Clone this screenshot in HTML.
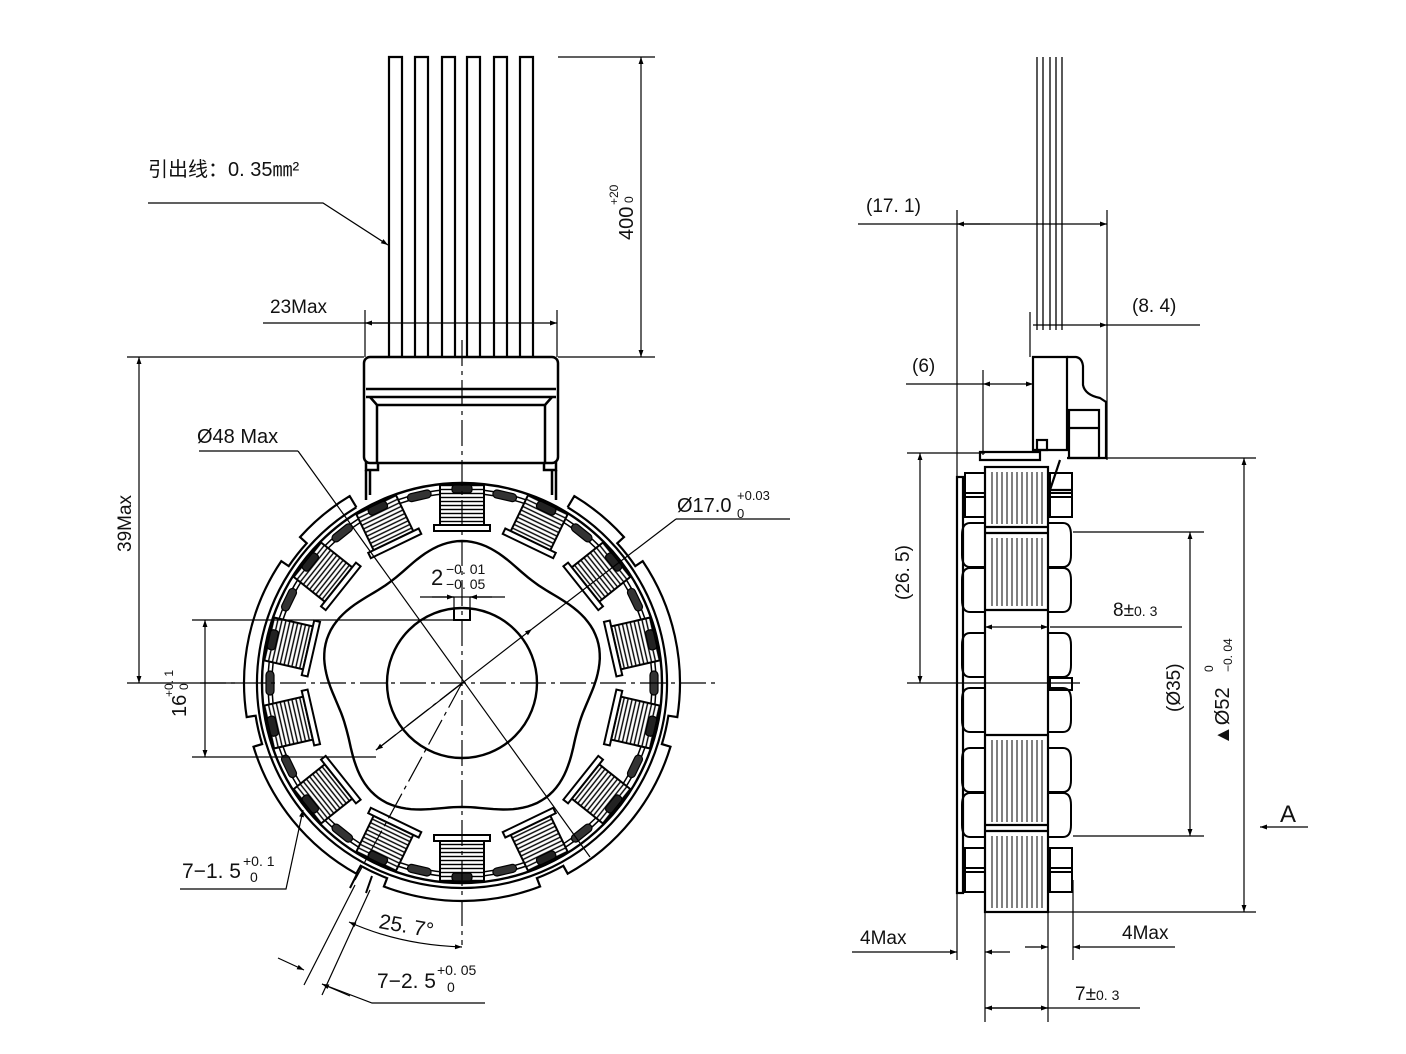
<!DOCTYPE html>
<html><head><meta charset="utf-8"><style>
html,body{margin:0;padding:0;background:#fff}
svg{display:block}
text{font-family:"Liberation Sans","Noto Sans CJK SC",sans-serif;fill:#111}
</style></head><body>
<svg id="s" width="1406" height="1054" viewBox="0 0 1406 1054" xmlns="http://www.w3.org/2000/svg">
<defs>
<marker id="a" viewBox="0 0 10 10" refX="10" refY="5" markerWidth="16" markerHeight="7" markerUnits="userSpaceOnUse" orient="auto-start-reverse"><path d="M0,1.5 L10,5 L0,8.5z" fill="#000"/></marker>
<pattern id="hz" width="4" height="4" patternUnits="userSpaceOnUse"><rect width="4" height="4" fill="#fff"/><line x1="0" y1="1.5" x2="4" y2="1.5" stroke="#000" stroke-width="1.4"/></pattern>
<pattern id="vt" width="5" height="5" patternUnits="userSpaceOnUse"><rect width="5" height="5" fill="#fff"/><line x1="2" y1="0" x2="2" y2="5" stroke="#000" stroke-width="1"/></pattern>
</defs>
<g fill="none" stroke="#000" stroke-width="1.2">
<g stroke-width="2.2">
<path d="M389,358V57H402V358M415,358V57H428V358M442,358V57H455V358M467,358V57H480V358M494,358V57H507V358M520,358V57H533V358"/>
</g>
<g stroke-width="2.5">
<rect x="364" y="357" width="194" height="106" rx="6"/>
<line x1="366" y1="389" x2="556" y2="389"/>
<line x1="366" y1="397" x2="556" y2="397"/>
<path d="M370,397 L377,405 H545 L552,397"/>
<line x1="377" y1="405" x2="377" y2="462"/>
<line x1="545" y1="405" x2="545" y2="462"/>
<path d="M366,462 V470 H378 V462 M556,462 V470 H544 V462"/>
<path d="M366,470 V500 M556,470 V500 M370,470 V495 M552,470 V495"/>
</g>
<g stroke-width="2.4">
<circle cx="462" cy="683" r="200"/>
<circle cx="462" cy="683" r="194" stroke-width="1.5"/>
<circle cx="462" cy="683" r="190" stroke-width="1.5"/>
<circle cx="462" cy="683" r="75"/>
</g>
<path id="lobe" stroke-width="2.4"/>
<path id="ring" stroke-width="2.2"/>
<g id="coils"></g>
<g stroke-width="1.2" stroke-dasharray="26,5,4,5">
<line x1="200" y1="683" x2="715" y2="683"/>
<line x1="462" y1="340" x2="462" y2="945"/>
</g>
<line x1="298" y1="451" x2="590" y2="857"/>
<line x1="462" y1="683" x2="376" y2="750" stroke-dasharray="28,5,4,5"/>
<line x1="462" y1="683" x2="355" y2="880" stroke-dasharray="28,5,4,5"/>
<line x1="376" y1="750" x2="532" y2="629" marker-start="url(#a)" marker-end="url(#a)"/>
<line x1="532" y1="629" x2="676" y2="519"/>
<line x1="676" y1="519" x2="790" y2="519"/>
<line x1="199" y1="451" x2="298" y2="451"/>
<path d="M454,608 V620 H470 V608" stroke-width="2"/>
<line x1="420" y1="597" x2="505" y2="597"/>
<line x1="454" y1="597" x2="454" y2="608"/><line x1="470" y1="597" x2="470" y2="608"/>
<line x1="432" y1="597" x2="454" y2="597" marker-end="url(#a)"/>
<line x1="492" y1="597" x2="470" y2="597" marker-end="url(#a)"/>
<line x1="558" y1="57" x2="655" y2="57"/>
<line x1="558" y1="357" x2="655" y2="357"/>
<line x1="641" y1="57" x2="641" y2="357" marker-start="url(#a)" marker-end="url(#a)"/>
<line x1="365" y1="310" x2="365" y2="357"/><line x1="557" y1="310" x2="557" y2="357"/>
<line x1="263" y1="323" x2="557" y2="323" marker-end="url(#a)"/>
<line x1="365" y1="323" x2="390" y2="323" marker-start="url(#a)"/>
<path d="M148,203 H323 L388,245" marker-end="url(#a)"/>
<line x1="127" y1="357" x2="364" y2="357"/>
<line x1="127" y1="683" x2="240" y2="683"/>
<line x1="139" y1="357" x2="139" y2="683" marker-start="url(#a)" marker-end="url(#a)"/>
<line x1="192" y1="620" x2="454" y2="620"/>
<line x1="192" y1="757" x2="376" y2="757"/>
<line x1="205" y1="620" x2="205" y2="757" marker-start="url(#a)" marker-end="url(#a)"/>
<path d="M180,889 H286 L303,810" marker-end="url(#a)"/>
<path d="M358,872 L350,888 M372,876 L366,893" stroke-width="2"/>
<line x1="355" y1="885" x2="304" y2="985"/>
<line x1="370" y1="890" x2="322" y2="995"/>
<line x1="278" y1="958" x2="304" y2="970" marker-end="url(#a)"/>
<line x1="350" y1="996" x2="322" y2="984" marker-end="url(#a)"/>
<path d="M322,984 L372,1003 H485"/>
<path d="M349,922 Q400,945 462,947" marker-start="url(#a)" marker-end="url(#a)"/>

<g stroke-width="1.3">
<path d="M1037,57 V330 M1043,57 V330 M1050,57 V330 M1056,57 V330 M1062,57 V330"/>
</g>
<g stroke-width="2.2">
<path d="M1033,357 H1067 V450 H1033 Z"/>
<path d="M1067,357 H1076 Q1082,358 1083,366 V385 Q1085,395 1100,398 L1106,402 V458 H1067"/>
<rect x="1069" y="410" width="30" height="48"/>
<line x1="1069" y1="428" x2="1099" y2="428"/>
<rect x="1037" y="440" width="10" height="10"/>
<path d="M980,452 H1040 V460 H980 Z"/>
<rect x="957" y="477" width="6" height="416"/>
<rect x="985" y="467" width="63" height="445"/>
<line x1="985" y1="527" x2="1048" y2="527"/><line x1="985" y1="533" x2="1048" y2="533"/>
<line x1="985" y1="610" x2="1048" y2="610"/><line x1="985" y1="735" x2="1048" y2="735"/>
<line x1="985" y1="825" x2="1048" y2="825"/><line x1="985" y1="831" x2="1048" y2="831"/>
<path d="M1060,460 L1050,490 L1072,490"/>
</g>
<g id="rv"></g>
<rect x="990" y="472" width="53" height="52" fill="url(#vt)" stroke="none"/>
<rect x="990" y="538" width="53" height="68" fill="url(#vt)" stroke="none"/>
<rect x="990" y="740" width="53" height="82" fill="url(#vt)" stroke="none"/>
<rect x="990" y="836" width="53" height="72" fill="url(#vt)" stroke="none"/>
<line x1="957" y1="210" x2="957" y2="960"/>
<line x1="1107" y1="210" x2="1107" y2="460"/>
<line x1="858" y1="224" x2="1107" y2="224" marker-end="url(#a)"/>
<line x1="957" y1="224" x2="990" y2="224" marker-start="url(#a)"/>
<line x1="1030" y1="312" x2="1030" y2="357"/>
<line x1="1033" y1="325" x2="1107" y2="325" marker-end="url(#a)"/>
<line x1="1107" y1="325" x2="1200" y2="325"/>
<line x1="983" y1="370" x2="983" y2="455"/>
<line x1="906" y1="384" x2="983" y2="384"/>
<line x1="983" y1="384" x2="1033" y2="384" marker-start="url(#a)" marker-end="url(#a)"/>
<line x1="907" y1="453" x2="985" y2="453"/>
<line x1="907" y1="683" x2="1080" y2="683"/>
<line x1="920" y1="453" x2="920" y2="683" marker-start="url(#a)" marker-end="url(#a)"/>
<line x1="1073" y1="532" x2="1204" y2="532"/>
<line x1="1073" y1="836" x2="1204" y2="836"/>
<line x1="1190" y1="532" x2="1190" y2="836" marker-start="url(#a)" marker-end="url(#a)"/>
<line x1="1106" y1="458" x2="1256" y2="458"/>
<line x1="1048" y1="912" x2="1256" y2="912"/>
<line x1="1244" y1="458" x2="1244" y2="912" marker-start="url(#a)" marker-end="url(#a)"/>
<line x1="1050" y1="627" x2="1182" y2="627"/>
<line x1="985" y1="627" x2="1048" y2="627" marker-start="url(#a)" marker-end="url(#a)"/>
<line x1="1308" y1="827" x2="1260" y2="827" marker-end="url(#a)"/>
<line x1="985" y1="912" x2="985" y2="1022"/>
<line x1="1048" y1="912" x2="1048" y2="1022"/>
<line x1="1073" y1="880" x2="1073" y2="960"/>
<line x1="852" y1="952" x2="957" y2="952" marker-end="url(#a)"/>
<line x1="985" y1="952" x2="1010" y2="952" marker-start="url(#a)"/>
<line x1="1175" y1="947" x2="1073" y2="947" marker-end="url(#a)"/>
<line x1="1048" y1="947" x2="1025" y2="947" marker-start="url(#a)"/>
<line x1="985" y1="1008" x2="1140" y2="1008"/>
<line x1="985" y1="1008" x2="1048" y2="1008" marker-start="url(#a)" marker-end="url(#a)"/>
</g>
<text x="148" y="176" font-size="20">引出线：0. 35㎜²</text>
<text x="270" y="313" font-size="19">23Max</text>
<text x="197" y="443" font-size="20">Ø48 Max</text>
<text x="677" y="512" font-size="20">Ø17.0</text>
<text x="737" y="500" font-size="13">+0.03</text>
<text x="737" y="518" font-size="13">0</text>
<text x="431" y="585" font-size="22">2</text>
<text x="446" y="574" font-size="14">−0. 01</text>
<text x="446" y="589" font-size="14">−0. 05</text>
<text x="182" y="878" font-size="21">7−1. 5</text>
<text x="243" y="866" font-size="14">+0. 1</text>
<text x="250" y="882" font-size="14">0</text>
<text x="378" y="928" font-size="21" transform="rotate(10 378 928)">25. 7°</text>
<text x="377" y="988" font-size="21">7−2. 5</text>
<text x="437" y="975" font-size="14">+0. 05</text>
<text x="447" y="992" font-size="14">0</text>
<text font-size="20" transform="translate(633,240) rotate(-90)">400</text>
<text font-size="12" transform="translate(618,205) rotate(-90)">+20</text>
<text font-size="12" transform="translate(633,203) rotate(-90)">0</text>
<text font-size="19" transform="translate(131,552) rotate(-90)">39Max</text>
<text font-size="20" transform="translate(186,717) rotate(-90)">16</text>
<text font-size="12" transform="translate(173,697) rotate(-90)">+0. 1</text>
<text font-size="12" transform="translate(188,690) rotate(-90)">0</text>
<text x="866" y="212" font-size="19">(17. 1)</text>
<text x="1132" y="312" font-size="19">(8. 4)</text>
<text x="912" y="372" font-size="19">(6)</text>
<text font-size="19" transform="translate(909,600) rotate(-90)">(26. 5)</text>
<text x="1113" y="616" font-size="19">8±<tspan font-size="14">0. 3</tspan></text>
<text font-size="19" transform="translate(1180,712) rotate(-90)">(Ø35)</text>
<text font-size="20" transform="translate(1229,745) rotate(-90)">▲Ø52</text>
<text font-size="12" transform="translate(1213,672) rotate(-90)">0</text>
<text font-size="12" transform="translate(1232,672) rotate(-90)">−0. 04</text>
<text x="1280" y="822" font-size="24">A</text>
<text x="860" y="944" font-size="19">4Max</text>
<text x="1122" y="939" font-size="19">4Max</text>
<text x="1075" y="1000" font-size="19">7±<tspan font-size="14">0. 3</tspan></text>
</svg>
<script>
var cx=462,cy=683;
function P(r,deg){var a=(deg-90)*Math.PI/180;return (cx+r*Math.cos(a)).toFixed(1)+","+(cy+r*Math.sin(a)).toFixed(1);}
var d="";for(var i=0;i<=360;i+=2){var r=133+9*Math.cos(5*i*Math.PI/180);d+=(i?"L":"M")+P(r,i);}
document.getElementById("lobe").setAttribute("d",d+"Z");
// outer notched ring
var ro=218,rn=209,ri=205,w=4;
var notches=[52,103,155,205,257,308];
var g="M"+P(ri,31)+"L"+P(ro,31),cur=31;
notches.forEach(function(n){
 g+="A"+ro+","+ro+" 0 0 1 "+P(ro,n-w)+"L"+P(rn,n-w)+"A"+rn+","+rn+" 0 0 1 "+P(rn,n+w)+"L"+P(ro,n+w);
});
g+="A"+ro+","+ro+" 0 0 1 "+P(ro,329)+"L"+P(ri,329);
g+="M"+P(ri,31)+"A"+ri+","+ri+" 0 1 1 "+P(ri,329);
document.getElementById("ring").setAttribute("d",g);
var h="";
for(var k=0;k<14;k++){var ang=k*360/14;
h+='<g transform="rotate('+ang+' '+cx+' '+cy+')">'+
'<rect x="'+(cx-22)+'" y="'+(cy-198)+'" width="44" height="40" fill="url(#hz)" stroke="#000" stroke-width="2"/>'+
'<rect x="'+(cx-28)+'" y="'+(cy-158)+'" width="56" height="6" fill="#fff" stroke="#000" stroke-width="2"/>'+
'<rect x="'+(cx-10)+'" y="'+(cy-198)+'" width="20" height="8" rx="3" fill="#222" stroke="#000"/>'+
'</g>';
var m=ang+180/14;h+='<g transform="rotate('+m+' '+cx+' '+cy+')"><rect x="'+(cx-12)+'" y="'+(cy-196)+'" width="24" height="8" rx="4" fill="#333" stroke="#000"/></g>';}
document.getElementById("coils").innerHTML=h;
var s="";
[545,590,655,710,770,815].forEach(function(y){
s+='<path d="M985,'+(y-22)+' H970 Q962,'+(y-22)+' 962,'+(y-10)+' V'+(y+10)+' Q962,'+(y+22)+' 970,'+(y+22)+' H985" fill="none" stroke="#000" stroke-width="2"/>';
s+='<path d="M1048,'+(y-22)+' H1063 Q1071,'+(y-22)+' 1071,'+(y-10)+' V'+(y+10)+' Q1071,'+(y+22)+' 1063,'+(y+22)+' H1048" fill="none" stroke="#000" stroke-width="2"/>';});
[485,505,860,880].forEach(function(y){s+='<rect x="965" y="'+(y-12)+'" width="20" height="24" fill="none" stroke="#000" stroke-width="2"/><rect x="1050" y="'+(y-12)+'" width="22" height="24" fill="none" stroke="#000" stroke-width="2"/>';});
s+='<rect x="1050" y="678" width="22" height="12" fill="none" stroke="#000" stroke-width="2"/>';
document.getElementById("rv").innerHTML=s;
</script>
</body></html>
